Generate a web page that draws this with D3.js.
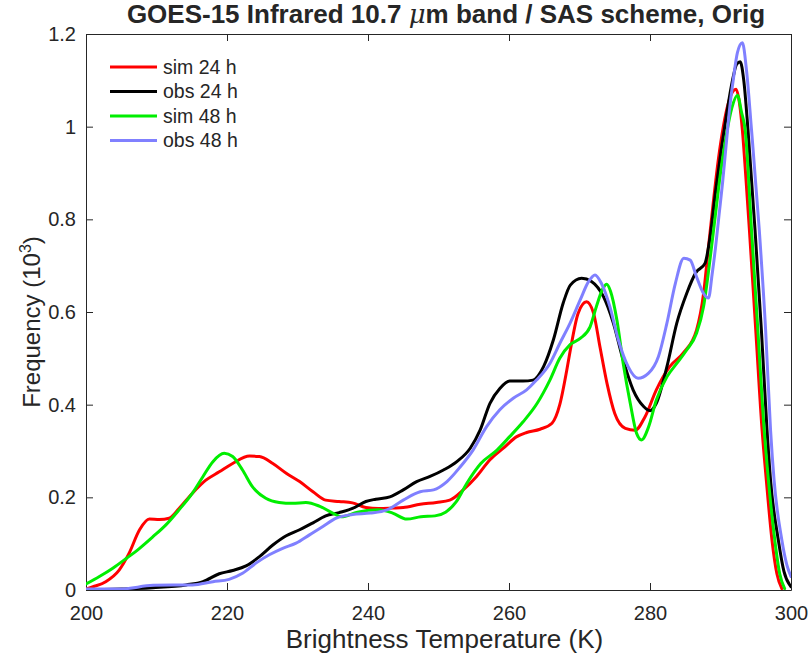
<!DOCTYPE html>
<html><head><meta charset="utf-8">
<script src="https://cdn.jsdelivr.net/npm/d3@7"></script>
<style>
body{margin:0;background:#fff;}
text{font-family:"Liberation Sans",Arial,Helvetica,sans-serif;fill:#262626;}
</style></head><body>
<svg id="c" width="811" height="656"></svg>
<script>
// ---- data ----
const xTicks = [200, 220, 240, 260, 280, 300];
const yTicks = [0, 0.2, 0.4, 0.6, 0.8, 1, 1.2];
const seriesNames = ["sim 24 h", "obs 24 h", "sim 48 h", "obs 48 h"];
const seriesColors = ["#ff0000", "#000000", "#00ee00", "#8080ff"];

const sim24T = [200,201,202.8,204.7,206.1,207.6,209,210.4,211.8,213.2,215.1,217,218.9,220.8,223.2,224.6,226.5,228.4,230.3,232.2,234,235.9,237.8,239.7,241.5,243.5,245,247.4,249.7,251.6,253.5,255.4,257.3,259.2,261.1,262.5,264.4,266.1,267.2,268.2,268.7,269.8,271,272,272.9,273.9,275,276.5,277.9,279.3,280.9,282.8,284.7,286.6,287.6,288.3,289.0,289.7,290.4,291.1,291.7,292.2,292.7,293.1,293.6,294.1,295.0,295.9,296.5,297.3,298,298.7];
const sim24V = [0.002,0.007,0.018,0.043,0.079,0.13,0.153,0.152,0.155,0.176,0.209,0.237,0.255,0.273,0.289,0.288,0.273,0.252,0.234,0.212,0.194,0.191,0.188,0.178,0.176,0.177,0.178,0.185,0.189,0.194,0.216,0.245,0.281,0.306,0.331,0.340,0.347,0.36,0.40,0.475,0.518,0.597,0.622,0.597,0.525,0.446,0.381,0.349,0.345,0.374,0.432,0.482,0.511,0.561,0.64,0.741,0.84,0.93,1.0,1.05,1.075,1.081,1.05,0.993,0.89,0.777,0.561,0.345,0.237,0.108,0.035,0.003];

const obs24T = [200,205,209.5,214.2,216.6,218.9,220.8,222.7,224.6,226.5,228.4,230.3,232.2,234,235.9,237.8,239.7,241.1,243.1,245,246.9,248.8,250.7,252.6,254.5,255.9,257.3,258.7,260.1,262,263.4,264.9,266.3,267.7,268.7,270.3,271.7,273.4,274.8,276.2,277.6,279.1,280,280.9,282.4,283.8,285.2,286.5,287.8,288.5,289.3,290.1,290.9,291.7,292.3,292.8,293.3,293.9,294.9,295.8,296.6,297.1,298.2,299,300];
const obs24V = [0,0.002,0.005,0.011,0.018,0.035,0.042,0.052,0.072,0.097,0.117,0.13,0.145,0.16,0.167,0.176,0.191,0.196,0.201,0.216,0.234,0.245,0.259,0.277,0.306,0.345,0.403,0.435,0.451,0.451,0.453,0.482,0.54,0.62,0.658,0.673,0.666,0.633,0.576,0.496,0.432,0.396,0.387,0.403,0.482,0.576,0.64,0.685,0.705,0.76,0.86,0.95,1.03,1.1,1.135,1.14,1.1,0.993,0.777,0.561,0.345,0.237,0.108,0.04,0.007];

const sim48T = [200,201.9,203.8,205.7,207.6,209.5,211.3,213.2,215.1,216.6,218,219.6,220.8,222.2,223.6,225.5,227.4,229.3,231.2,233.1,235,236.2,238.5,241.5,243.5,245.5,247.5,249.5,251,252.5,254,256,258.3,260.1,262,264,265.8,267.2,268.7,270.1,271.5,272.4,273.3,273.85,274.4,275.3,276.2,277.2,278.1,278.8,279.8,280.9,282.4,283.8,285.2,286.6,287.6,288.5,289.2,290,290.8,291.6,292.4,293.0,293.5,294.4,295.3,296.2,296.8,297.7,298.4,299.1];
const sim48V = [0.013,0.029,0.047,0.068,0.09,0.115,0.14,0.173,0.209,0.245,0.277,0.295,0.288,0.259,0.223,0.198,0.189,0.187,0.189,0.181,0.166,0.158,0.168,0.173,0.166,0.153,0.158,0.16,0.168,0.19,0.23,0.273,0.302,0.331,0.363,0.403,0.453,0.5,0.53,0.543,0.568,0.612,0.65,0.66,0.645,0.583,0.489,0.403,0.338,0.324,0.352,0.41,0.46,0.489,0.518,0.554,0.612,0.712,0.8,0.9,0.98,1.04,1.068,1.03,0.993,0.777,0.561,0.345,0.237,0.108,0.035,0.003];

const obs48T = [200,204.7,209.5,212.3,215.1,218,220.3,222.2,224.1,226,227.9,229.8,231.7,233.6,235.5,237.8,240.3,242.7,245,247.4,249.3,251.2,253.1,254.9,256.8,258.7,260.6,262.5,263.9,265.8,267.2,268.7,270.1,271.3,272.2,273.1,274.3,275.5,276.9,278.3,279.8,281.2,282.4,283.6,284.8,285.7,286.6,287.6,288.3,288.8,289.3,289.8,290.3,290.8,291.3,291.8,292.4,293.1,293.7,294.4,295.5,296.4,297.1,297.6,298.7,299.4,300];
const obs48V = [0.002,0.002,0.01,0.011,0.011,0.018,0.023,0.036,0.058,0.076,0.09,0.101,0.119,0.137,0.155,0.163,0.166,0.173,0.194,0.212,0.216,0.234,0.266,0.302,0.352,0.389,0.414,0.432,0.453,0.489,0.532,0.577,0.626,0.666,0.68,0.662,0.612,0.54,0.482,0.457,0.468,0.504,0.576,0.662,0.716,0.712,0.676,0.64,0.63,0.68,0.74,0.81,0.88,0.96,1.04,1.1,1.16,1.181,1.12,0.993,0.777,0.561,0.345,0.237,0.108,0.055,0.029];

const seriesT = [sim24T, obs24T, sim48T, obs48T];
const seriesV = [sim24V, obs24V, sim48V, obs48V];

// ---- layout ----
const L = 86, R = 791, T = 34, B = 590;
const svg = d3.select("#c");
const x = d3.scaleLinear().domain([200, 300]).range([L, R]);
const y = d3.scaleLinear().domain([0, 1.2]).range([B, T]);
const axisColor = "#262626";

svg.append("defs").append("clipPath").attr("id","clip")
  .append("rect").attr("x",L).attr("y",T).attr("width",R-L).attr("height",B-T);

// axes
const gx = svg.append("g").attr("transform",`translate(0,${B})`)
  .call(d3.axisBottom(x).tickValues(xTicks).tickSizeInner(-7).tickSizeOuter(0).tickPadding(16).tickFormat(d3.format("d")));
const gy = svg.append("g").attr("transform",`translate(${L},0)`)
  .call(d3.axisLeft(y).tickValues(yTicks).tickSizeInner(-7).tickSizeOuter(0).tickPadding(10).tickFormat(d => d === 0 ? "0" : (d === 1 ? "1" : d3.format(".1f")(d))));
const gt = svg.append("g").attr("transform",`translate(0,${T})`)
  .call(d3.axisTop(x).tickValues(xTicks).tickSizeInner(-7).tickSizeOuter(0).tickFormat(""));
const gr = svg.append("g").attr("transform",`translate(${R},0)`)
  .call(d3.axisRight(y).tickValues(yTicks).tickSizeInner(-7).tickSizeOuter(0).tickFormat(""));
[gx,gy,gt,gr].forEach(g=>{
  g.selectAll("path").attr("stroke",axisColor).attr("stroke-width",1);
  g.selectAll("line").attr("stroke",axisColor).attr("stroke-width",1);
  g.selectAll("text").attr("fill",axisColor).style("font-size","20px").style("font-family",'"Liberation Sans",Arial,sans-serif');
});

// lines
const line = d3.line().x(d=>x(d[0])).y(d=>y(d[1])).curve(d3.curveMonotoneX);
const gl = svg.append("g").attr("clip-path","url(#clip)");
seriesT.forEach((ts,i)=>{
  const pts = ts.map((t,j)=>[t, seriesV[i][j]]);
  gl.append("path").datum(pts).attr("d",line)
    .attr("fill","none").attr("stroke",seriesColors[i]).attr("stroke-width",3)
    .attr("stroke-linejoin","round").attr("stroke-linecap","round");
});

// legend
const legY0 = 67, legDy = 24.5;
seriesNames.forEach((n,i)=>{
  const yy = legY0 + i*legDy;
  svg.append("line").attr("x1",110).attr("x2",157).attr("y1",yy).attr("y2",yy)
    .attr("stroke",seriesColors[i]).attr("stroke-width",3);
  svg.append("text").attr("x",163).attr("y",yy).attr("dy","0.35em")
    .style("font-size","19.5px").text(n);
});

// title
const title = svg.append("text").attr("x",446).attr("y",23).attr("text-anchor","middle")
  .style("font-size","26px").style("font-weight","bold");
title.append("tspan").text("GOES-15 Infrared 10.7 ");
title.append("tspan").style("font-style","italic").style("font-family",'"DejaVu Serif",serif').style("font-weight","normal").text("μ");
title.append("tspan").text("m band / SAS scheme, Orig");

// axis labels
svg.append("text").attr("x",(L+R)/2+6).attr("y",648).attr("text-anchor","middle")
  .style("font-size","26px").text("Brightness Temperature (K)");
const yl = svg.append("text").attr("transform",`translate(40,322) rotate(-90)`).attr("text-anchor","middle")
  .style("font-size","24px");
yl.append("tspan").text("Frequency (10");
yl.append("tspan").attr("dy",-9).style("font-size","16px").text("3");
yl.append("tspan").attr("dy",9).text(")");
</script>
</body></html>
